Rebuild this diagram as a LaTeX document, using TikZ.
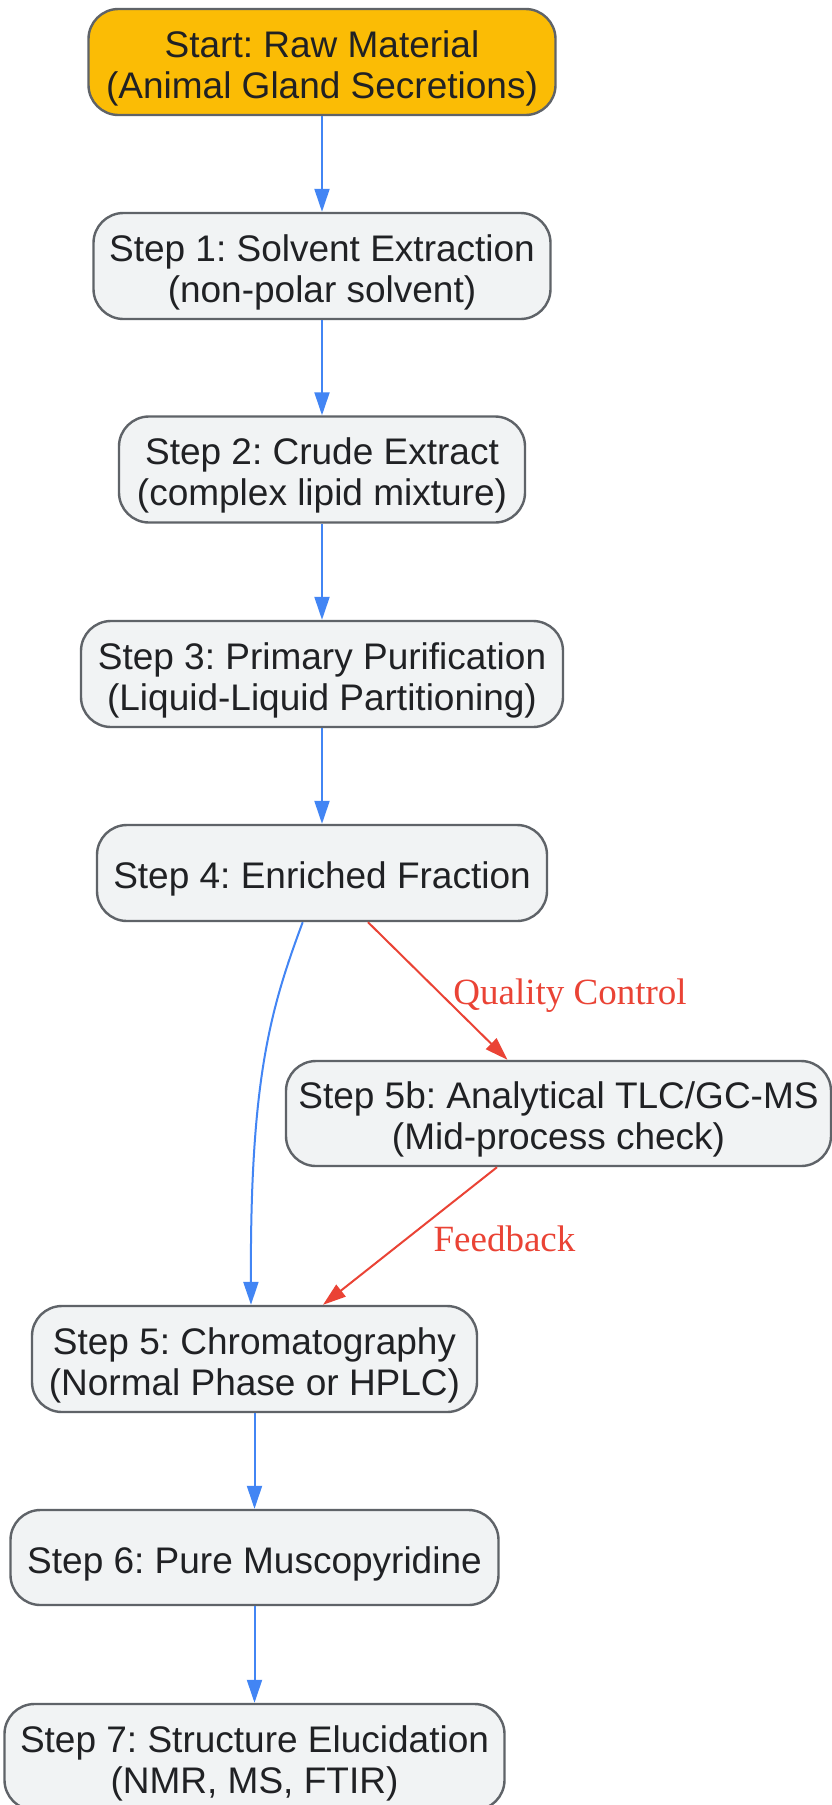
\documentclass[tikz,border=0pt]{standalone}
\usepackage{fontspec}
\setmainfont{Liberation Sans}
\newfontfamily\lblfont{Liberation Serif}
\usetikzlibrary{arrows.meta,calc}
\frenchspacing
\newcommand{\tstr}{\rule{0pt}{40pt}}
\newcommand{\bstr}{\rule[-9pt]{0pt}{9pt}}
\definecolor{startfill}{HTML}{FBBC05}
\definecolor{nodefill}{HTML}{F1F3F4}
\definecolor{nodeborder}{HTML}{5F6368}
\definecolor{txt}{HTML}{202124}
\definecolor{flowblue}{HTML}{4285F4}
\definecolor{flowred}{HTML}{EA4335}
\tikzset{
  box/.style={draw=nodeborder, line width=2.4pt, fill=nodefill, rounded corners=30pt,
    text=txt, align=center, inner sep=0pt, font=\fontsize{37}{41}\selectfont},
  startbox/.style={box, fill=startfill},
  blueedge/.style={draw=flowblue, line width=2pt, -{Triangle[length=23pt,width=15pt]}},
  rededge/.style={draw=flowred, line width=2pt, -{Triangle[length=23pt,width=15pt]}},
  lbl/.style={text=flowred, font=\lblfont\fontsize{37}{41}\selectfont, inner sep=0pt}
}
\begin{document}
\begin{tikzpicture}[x=1pt,y=-1pt]
\useasboundingbox (0,0) rectangle (832,1805);
\fill[white] (0,0) rectangle (832,1805);
\node[startbox, minimum width=467pt, minimum height=106pt] (start) at (322,62) {\tstr Start: Raw Material\\(Animal Gland Secretions)\bstr};
\node[box, minimum width=457pt, minimum height=106pt] (s1) at (322,266) {\tstr Step 1: Solvent Extraction\\(non-polar solvent)\bstr};
\node[box, minimum width=406pt, minimum height=106pt] (s2) at (322,469.5) {\tstr Step 2: Crude Extract\\(complex lipid mixture)\bstr};
\node[box, minimum width=482pt, minimum height=106pt] (s3) at (322,674) {\tstr Step 3: Primary Purification\\(Liquid-Liquid Partitioning)\bstr};
\node[box, minimum width=450pt, minimum height=96pt] (s4) at (322,873) {\tstr Step 4: Enriched Fraction\bstr};
\node[box, minimum width=545pt, minimum height=105pt] (s5b) at (558.5,1113.5) {\tstr Step 5b: Analytical TLC/GC-MS\\(Mid-process check)\bstr};
\node[box, minimum width=445pt, minimum height=106pt] (s5) at (254.5,1359) {\tstr Step 5: Chromatography\\(Normal Phase or HPLC)\bstr};
\node[box, minimum width=488pt, minimum height=95pt] (s6) at (254.5,1557.5) {\tstr Step 6: Pure Muscopyridine\bstr};
\node[box, minimum width=500pt, minimum height=106pt] (s7) at (254.5,1757) {\tstr Step 7: Structure Elucidation\\(NMR, MS, FTIR)\bstr};

\draw[blueedge] (start.south) -- (s1.north);
\draw[blueedge] (s1.south) -- (s2.north);
\draw[blueedge] (s2.south) -- (s3.north);
\draw[blueedge] (s3.south) -- (s4.north);
\draw[blueedge] ($(s4.south)+(-19.3,0)$) .. controls (270,1010) and (250,1080) .. (s5.north -| 251,0);
\draw[rededge] ($(s4.south)+(46,0)$) -- ($(s5b.north)+(-51,0)$);
\draw[rededge] ($(s5b.south)+(-61.5,0)$) -- ($(s5.north)+(68.5,0)$);
\draw[blueedge] (s5.south) -- (s6.north);
\draw[blueedge] (s6.south) -- (s7.north);

\node[lbl] (qc) at (570,996) {Quality Control};
\node[lbl] (fb) at (504.5,1239) {Feedback};
\end{tikzpicture}
\end{document}
